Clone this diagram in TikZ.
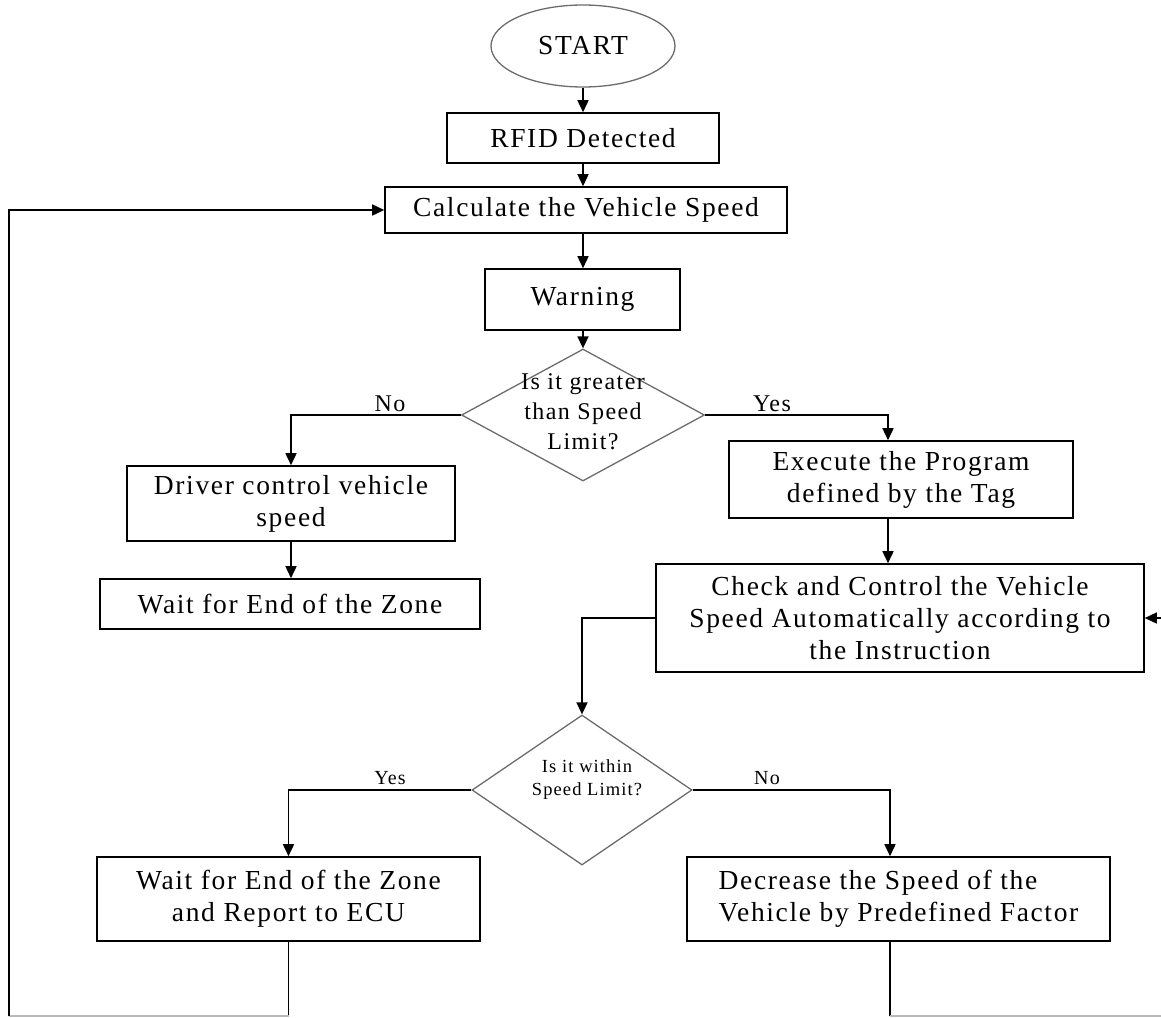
\documentclass[tikz,border=0pt]{standalone}
\usepackage{fontspec}
\setmainfont{Liberation Serif}[LetterSpace=6]
\usetikzlibrary{shapes.geometric,arrows.meta}
\begin{document}
\begin{tikzpicture}[x=1pt,y=-1pt,
  box/.style={draw, line width=1.6pt, inner sep=0pt, align=center, font=\fontsize{27.5}{32}\selectfont},
  decision/.style={draw=gray!85!black, line width=1.3pt, diamond, inner sep=0pt},
  arr/.style={line width=1.6pt, -{Triangle[width=11pt,length=12pt]}},
  ln/.style={line width=1.6pt},
  faint/.style={draw=gray!55, line width=1.4pt},
  lab/.style={font=\fontsize{24}{26}\selectfont, inner sep=0pt},
  dtext/.style={inner sep=0pt, align=center}
]
\useasboundingbox (0,0) rectangle (1161,1017);

% nodes
\node[draw=gray!85!black, line width=1.3pt, ellipse, minimum width=184pt, minimum height=82pt, inner sep=0pt, font=\fontsize{27.5}{32}\selectfont] (start) at (583,46) {START};
\node[box, minimum width=272pt, minimum height=50pt] (rfid) at (583,138) {RFID Detected};
\node[box, minimum width=402pt, minimum height=46pt] (calc) at (586,210) {Calculate the Vehicle Speed};
\node[box, minimum width=195pt, minimum height=61pt] (warn) at (582.5,299.5) {Warning};
\node[decision, minimum width=243pt, minimum height=132pt] (d1) at (583,415) {};
\node[dtext, font=\fontsize{24}{30}\selectfont] (d1t) at (583,412) {Is it greater\\than Speed\\Limit?};
\node[box, minimum width=328pt, minimum height=75pt] (driver) at (291,503.5) {Driver control vehicle\\speed};
\node[box, minimum width=380pt, minimum height=50pt] (wait1) at (290,604) {Wait for End of the Zone};
\node[box, minimum width=344pt, minimum height=77pt] (exec) at (901,479.5) {Execute the Program\\defined by the Tag};
\node[box, minimum width=488pt, minimum height=108pt] (check) at (900,618) {Check and Control the Vehicle\\Speed Automatically according to\\the Instruction};
\node[decision, minimum width=220pt, minimum height=150pt] (d2) at (582,790) {};
\node[dtext, font=\fontsize{18.5}{23}\selectfont] (d2t) at (587,780) {Is it within\\Speed Limit?};
\node[box, minimum width=383pt, minimum height=84pt] (ecu) at (288.5,899) {Wait for End of the Zone\\and Report to ECU};
\node[box, align=left, minimum width=423pt, minimum height=84pt] (dec) at (898.5,899) {Decrease the Speed of the\\Vehicle by Predefined Factor};

% labels
\node[lab] (no1) at (390,404) {No};
\node[lab] (yes1) at (772,404) {Yes};
\node[lab, font=\fontsize{20}{22}\selectfont] (yes2) at (390,778) {Yes};
\node[lab, font=\fontsize{20}{22}\selectfont] (no2) at (767,778) {No};

% helper coordinates
\coordinate (cx) at (583,0);
\coordinate (ex) at (888,0);
\coordinate (dx) at (890,0);
\coordinate (bl) at (9,1016);
\coordinate (br) at (1161,1016);
\coordinate (re) at (1161,618);

% connectors
\draw[arr] (start.south -| cx) -- (rfid.north -| cx);
\draw[arr] (rfid.south -| cx) -- (calc.north -| cx);
\draw[arr] (calc.south -| cx) -- (warn.north -| cx);
\draw[arr] (warn.south -| cx) -- (d1.north);
\draw[arr] (d1.west) -| (driver.north);
\draw[arr] (driver.south) -- (driver.south |- wait1.north);
\draw[arr] (d1.east) -| (exec.north -| ex);
\draw[arr] (exec.south -| ex) -- (check.north -| ex);
\draw[arr] (check.west) -| (d2.north);
\draw[arr] (d2.west) -| (ecu.north);
\draw[arr] (d2.east) -| (dec.north -| dx);
\draw[ln] (ecu.south) -- (ecu.south |- bl);
\draw[faint] (ecu.south |- bl) -- (bl);
\draw[arr] (bl) -- (bl |- calc.west) -- (calc.west);
\draw[ln] (dec.south -| dx) -- (dx |- br);
\draw[faint] (dx |- br) -- (br);
\draw[arr] (re) -- (check.east);
\end{tikzpicture}
\end{document}
